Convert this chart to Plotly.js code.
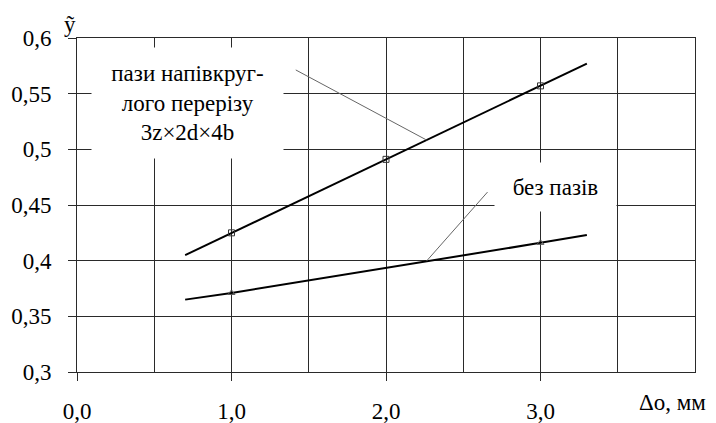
<!DOCTYPE html>
<html><head><meta charset="utf-8">
<script src="https://cdn.plot.ly/plotly-3.0.1.min.js"></script>
</head><body style="margin:0"><div id="chart"></div>
<script>
// Data
const upperLineX = [0.7, 3.3];
const upperLineY = [0.405, 0.577];
const upperPtsX = [1.0, 2.0, 3.0];
const upperPtsY = [0.425, 0.491, 0.557];
const lowerLineX = [0.7, 1.0, 3.0, 3.3];
const lowerLineY = [0.365, 0.371, 0.416, 0.423];
const lowerPtsX = [1.0, 3.0];
const lowerPtsY = [0.371, 0.416];
const xTickVals = [0, 1, 2, 3];
const xTickText = ['0,0', '1,0', '2,0', '3,0'];
const yTickVals = [0.3, 0.35, 0.4, 0.45, 0.5, 0.55, 0.6];
const yTickText = ['0,3', '0,35', '0,4', '0,45', '0,5', '0,55', '0,6'];
const upperLabel = 'пази напівкруг-<br>лого перерізу<br>3z×2d×4b';
const lowerLabel = 'без пазів';
const xTitle = 'Δo, мм';
const yTitle = 'ỹ';

const FONT = 'Times New Roman';
const FS = 23;
const GRID = '#2a2a2a';

const traces = [
  {x: upperLineX, y: upperLineY, mode: 'lines', line: {color: '#000', width: 2}},
  {x: upperPtsX, y: upperPtsY, mode: 'markers', marker: {symbol: 'square-open', size: 6, color: '#333', line: {width: 1}}},
  {x: lowerLineX, y: lowerLineY, mode: 'lines', line: {color: '#000', width: 2}},
  {x: lowerPtsX, y: lowerPtsY, mode: 'markers', marker: {symbol: 'triangle-up-open', size: 6, color: '#555', line: {width: 1}}}
];

const layout = {
  width: 716, height: 423,
  margin: {l: 77, r: 21, t: 38, b: 51},
  paper_bgcolor: '#fff', plot_bgcolor: '#fff',
  showlegend: false,
  font: {family: FONT, size: FS, color: '#000'},
  xaxis: {
    range: [0, 4], tickvals: xTickVals, ticktext: xTickText,
    showgrid: true, gridcolor: GRID, gridwidth: 1,
    minor: {dtick: 0.5, tick0: 0, showgrid: true, gridcolor: GRID, gridwidth: 1, ticks: ''},
    ticks: 'outside', ticklen: 8, tickcolor: GRID, tickwidth: 1,
    showline: true, linecolor: GRID, linewidth: 1, mirror: true,
    zeroline: false, ticklabelstandoff: 10,
    tickfont: {family: FONT, size: FS, color: '#000'}
  },
  yaxis: {
    range: [0.3, 0.6], tickvals: yTickVals, ticktext: yTickText,
    showgrid: true, gridcolor: GRID, gridwidth: 1,
    ticks: 'outside', ticklen: 8, tickcolor: GRID, tickwidth: 1,
    showline: true, linecolor: GRID, linewidth: 1, mirror: true,
    zeroline: false, ticklabelstandoff: 12,
    tickfont: {family: FONT, size: FS, color: '#000'}
  },
  shapes: [
    {type: 'line', xref: 'x', yref: 'y', x0: 1.416, y0: 0.5713, x1: 2.262, y1: 0.5084, line: {color: '#666', width: 1}},
    {type: 'line', xref: 'x', yref: 'y', x0: 2.657, y0: 0.4616, x1: 2.262, y1: 0.3996, line: {color: '#666', width: 1}}
  ],
  annotations: [
    {xref: 'x', yref: 'y', x: 0.714, y: 0.5416, text: upperLabel, showarrow: false,
     bgcolor: '#fff', width: 185, height: 104, borderpad: 3, font: {family: FONT, size: FS, color: '#000'}},
    {xref: 'x', yref: 'y', x: 3.096, y: 0.4661, text: lowerLabel, showarrow: false,
     bgcolor: '#fff', width: 115, height: 42, borderpad: 3, font: {family: FONT, size: FS, color: '#000'}},
    {xref: 'paper', yref: 'paper', x: (70 - 77) / 618, y: (372 - 25) / 334, xanchor: 'center', yanchor: 'middle',
     text: yTitle, showarrow: false, font: {family: FONT, size: FS, color: '#000'}},
    {xref: 'paper', yref: 'paper', x: (672 - 77) / 618, y: -(403 - 372) / 334, xanchor: 'center', yanchor: 'middle',
     text: xTitle, showarrow: false, font: {family: FONT, size: FS, color: '#000'}}
  ]
};

Plotly.newPlot('chart', traces, layout, {displayModeBar: false});
</script></body></html>
